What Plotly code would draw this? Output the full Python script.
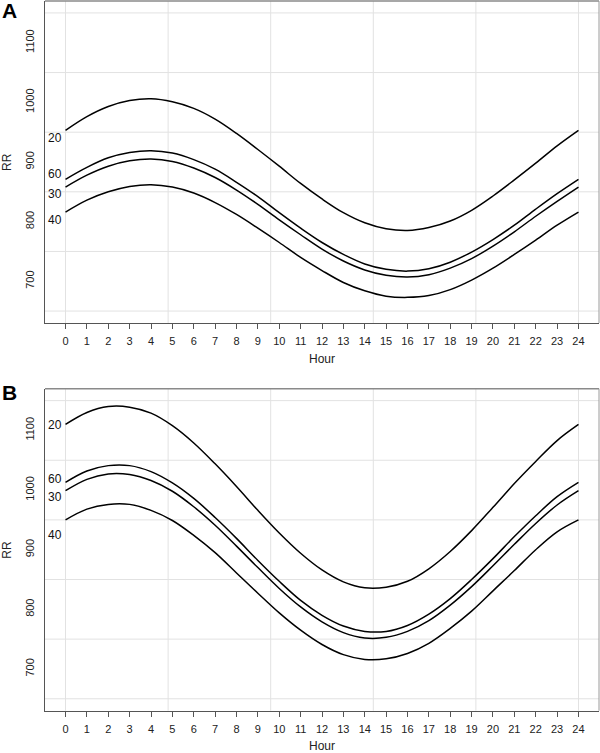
import plotly.graph_objects as go

# ---------------- data ----------------
hours = list(range(25))
hour_labels = [str(h) for h in hours]
series_names = ["20", "60", "30", "40"]

# Panel A (RR by hour)
a_20 = [953, 976, 993, 1003, 1006, 1001, 990, 972, 948, 921, 893, 864, 838,
        815, 798, 788, 785, 790, 801, 819, 843, 870, 898, 927, 953]
a_60 = [871, 891, 907, 916, 919, 915, 904, 888, 866, 842, 815, 789, 765,
        745, 729, 720, 717, 721, 732, 749, 770, 794, 821, 847, 871]
a_30 = [858, 878, 893, 902, 905, 901, 890, 874, 853, 829, 803, 778, 754,
        734, 719, 710, 707, 711, 722, 738, 759, 783, 809, 834, 858]
a_40 = [816, 836, 850, 859, 862, 858, 848, 832, 812, 789, 765, 740, 718,
        698, 684, 675, 673, 676, 686, 702, 722, 745, 769, 794, 816]

# Panel B (RR by hour)
b_20 = [1110, 1130, 1140, 1139, 1129, 1108, 1079, 1044, 1006, 966, 928, 894, 866,
        846, 836, 837, 847, 868, 897, 932, 971, 1011, 1048, 1083, 1110]
b_60 = [1013, 1032, 1041, 1041, 1031, 1012, 986, 954, 919, 882, 847, 815, 790,
        772, 763, 763, 773, 792, 818, 850, 885, 922, 957, 989, 1013]
b_30 = [999, 1018, 1027, 1026, 1016, 998, 972, 941, 906, 870, 835, 804, 779,
        761, 752, 753, 763, 781, 807, 838, 873, 909, 944, 975, 999]
b_40 = [950, 968, 976, 976, 966, 949, 924, 895, 861, 827, 794, 765, 741,
        724, 716, 717, 726, 743, 768, 797, 831, 865, 900, 930, 950]

y_ticks = [700, 800, 900, 1000, 1100]
y_grid = [650, 750, 850, 950, 1050, 1150]
x_grid = [0, 4.8, 9.6, 14.4, 19.2, 24]

a_label_y = [940, 880, 846, 802]
b_label_y = [1109, 1018, 989, 924]
label_x = -0.5

# ---------------- figure ----------------
W, H = 600, 753
ML, MR = 45, 1
PW = W - ML - MR

def ypaper(px):
    return 1 - px / H

def xpaper(px):
    return (px - ML) / PW

FONT = "Liberation Sans, Arial, sans-serif"
fig = go.Figure()

panels = [
    ("x", "y", [a_20, a_60, a_30, a_40], a_label_y),
    ("x2", "y2", [b_20, b_60, b_30, b_40], b_label_y),
]
for xa, ya, data, lab_y in panels:
    for name, ys in zip(series_names, data):
        fig.add_trace(go.Scatter(
            x=hours, y=ys, mode="lines", name=name,
            line=dict(color="black", width=1.5, shape="spline", smoothing=1.0),
            xaxis=xa, yaxis=ya, showlegend=False, hoverinfo="skip"))
    for name, ly in zip(series_names, lab_y):
        fig.add_annotation(x=label_x, y=ly, xref=xa, yref=ya, text=name,
                           showarrow=False, xanchor="center", yanchor="middle",
                           font=dict(family=FONT, size=12, color="#111"))
    # grid
    for gx in x_grid:
        fig.add_shape(type="line", xref=xa, yref=ya + " domain", x0=gx, x1=gx,
                      y0=0, y1=1, layer="below",
                      line=dict(color="#e2e2e2", width=1))
    for gy in y_grid:
        fig.add_shape(type="line", xref=xa + " domain", yref=ya, x0=0, x1=1,
                      y0=gy, y1=gy, layer="below",
                      line=dict(color="#e2e2e2", width=1))
    # top / right border (lighter)
    fig.add_shape(type="line", xref=xa + " domain", yref=ya + " domain",
                  x0=0, x1=1, y0=1, y1=1, line=dict(color="#8a8a8a", width=1.5))
    fig.add_shape(type="line", xref=xa + " domain", yref=ya + " domain",
                  x0=1, x1=1, y0=0, y1=1, line=dict(color="#9a9a9a", width=1))

xcommon = dict(range=[-0.96, 24.96], tickmode="array", tickvals=hours,
               ticktext=hour_labels, ticks="outside", ticklen=5, tickwidth=1,
               ticklabelstandoff=3,
               tickcolor="#555", tickfont=dict(family=FONT, size=11, color="#222"),
               showgrid=False, zeroline=False, showline=True, linecolor="#555",
               linewidth=1, fixedrange=True)
ycommon = dict(range=[630, 1170], tickmode="array", tickvals=y_ticks,
               ticktext=[str(v) for v in y_ticks], tickangle=-90, ticks="",
               ticklabelstandoff=6,
               tickfont=dict(family=FONT, size=11, color="#222"),
               showgrid=False, zeroline=False, showline=True, linecolor="#555",
               linewidth=1, fixedrange=True)

top_dom = [ypaper(323), ypaper(1)]
bot_dom = [ypaper(710.7), ypaper(388.7)]

fig.update_layout(
    width=W, height=H,
    margin=dict(l=ML, r=MR, t=0, b=0),
    paper_bgcolor="white", plot_bgcolor="white",
    xaxis=dict(xcommon, domain=[0, 1], anchor="y"),
    yaxis=dict(ycommon, domain=top_dom, anchor="x"),
    xaxis2=dict(xcommon, domain=[0, 1], anchor="y2"),
    yaxis2=dict(ycommon, domain=bot_dom, anchor="x2"),
    font=dict(family=FONT, color="#222"),
)

# axis titles and panel letters
for cy, hy in [((1 + 323) / 2, 359), ((388.7 + 710.7) / 2, 746)]:
    fig.add_annotation(x=xpaper(7), y=ypaper(cy), xref="paper", yref="paper",
                       text="RR", textangle=-90, showarrow=False,
                       xanchor="center", yanchor="middle",
                       font=dict(family=FONT, size=12, color="#222"))
    fig.add_annotation(x=xpaper(322), y=ypaper(hy), xref="paper", yref="paper",
                       text="Hour", showarrow=False,
                       xanchor="center", yanchor="middle",
                       font=dict(family=FONT, size=12, color="#222"))

for letter, cy in [("A", 11), ("B", 392)]:
    fig.add_annotation(x=xpaper(0), y=ypaper(cy), xref="paper", yref="paper",
                       text="<b>" + letter + "</b>", showarrow=False,
                       xanchor="left", yanchor="middle",
                       font=dict(family=FONT, size=21, color="black"))

fig.write_html(
    "out.html",
    config={"displayModeBar": False},
    post_script="document.body.style.margin='0';document.body.style.padding='0';",
)
